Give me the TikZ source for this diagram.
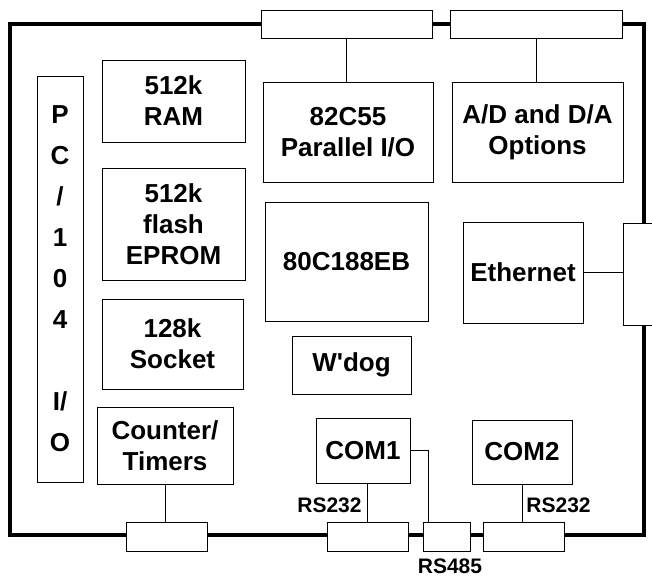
\documentclass[tikz,border=0pt]{standalone}
\usepackage{fontspec}
\setmainfont{Liberation Sans}

\begin{document}
\begin{tikzpicture}[x=1pt, y=-1pt, line width=0.8pt,
    blk/.style={draw, align=center, inner sep=0pt, font=\bfseries\fontsize{26}{31}\selectfont},
    port/.style={draw, fill=white, inner sep=0pt, minimum height=29},
    lbl/.style={inner sep=0pt, font=\bfseries\fontsize{21}{24}\selectfont}]
    \clip (0,0) rectangle (652,579);
    \draw[line width=4pt] (10,24) rectangle (644,535);

    \node[port, minimum width=171, minimum height=28] (pa) at (346.5,24) {};
    \node[port, minimum width=172, minimum height=28] (pb) at (536,24) {};
    \node[port, minimum width=42, minimum height=102] (eth) at (644,274) {};
    \node[port, minimum width=81] (ct) at (166.5,536.5) {};
    \node[port, minimum width=81] (sa) at (367.5,536.5) {};
    \node[port, minimum width=47] (sc) at (446.5,536.5) {};
    \node[port, minimum width=81] (sb) at (523.5,536.5) {};

    \node[blk, minimum width=46, minimum height=406, font=\bfseries\fontsize{26}{41}\selectfont] (bus) at (60,279) {P\\C\\/\\1\\0\\4\\[41pt]I/\\O};
    \node[blk, minimum width=143, minimum height=82] (ram) at (173.5,101) {512k\\RAM};
    \node[blk, minimum width=143, minimum height=112] (rom) at (173.5,224) {512k\\flash\\EPROM};
    \node[blk, minimum width=141, minimum height=90] (skt) at (172.5,344) {128k\\Socket};
    \node[blk, minimum width=136, minimum height=77] (tmr) at (165,445.5) {Counter/\\Timers};
    \node[blk, minimum width=170, minimum height=100] (pio) at (348,132) {82C55\\Parallel I/O};
    \node[blk, minimum width=171, minimum height=100] (adc) at (537.5,132) {A/D and D/A\\Options};
    \node[blk, minimum width=163, minimum height=119] (cpu) at (346.5,261.5) {80C188EB};
    \node[blk, minimum width=120, minimum height=101] (lan) at (523,272.5) {Ethernet};
    \node[blk, minimum width=119, minimum height=58] (wdg) at (351.5,365) {W\textquotesingle dog};
    \node[blk, minimum width=94, minimum height=65] (coma) at (363,450.5) {COM1};
    \node[blk, minimum width=100, minimum height=64] (comb) at (522,452) {COM2};

    \node[lbl, anchor=base east] (rsa) at (362,512) {RS232};
    \node[lbl, anchor=base west] (rsb) at (526,512) {RS232};
    \node[lbl, anchor=base] (rsc) at (450,573) {RS485};

    \draw (pa.south) -- (pa.south |- pio.north);
    \draw (pb.south) -- (pb.south |- adc.north);
    \draw (lan.east) -- (lan.east -| eth.west);
    \draw (tmr.south) -- (tmr.south |- ct.north);
    \draw (sa.north) -- (sa.north |- coma.south);
    \draw (coma.east) -| ([xshift=6pt]sc.north west);
    \draw (comb.south) -- (comb.south |- sb.north);
\end{tikzpicture}
\end{document}
